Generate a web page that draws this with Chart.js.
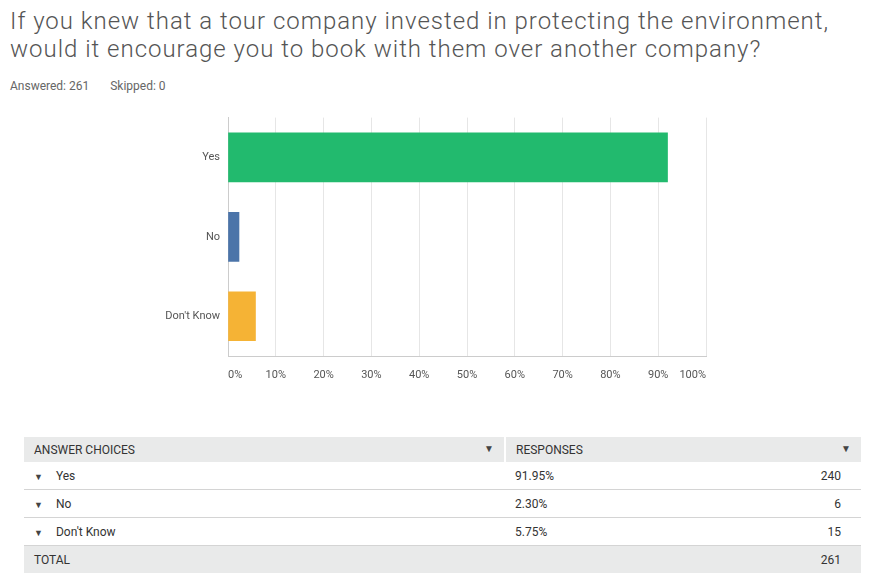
<!DOCTYPE html>
<html>
<head>
<meta charset="utf-8">
<script src="https://cdn.jsdelivr.net/npm/chart.js@4/dist/chart.umd.min.js"></script>
<style>
  body { margin: 0; background: #fff; font-family: Roboto, sans-serif; color: #333; }
  .page { position: relative; width: 875px; height: 587px; overflow: hidden; }
  h1 { position: absolute; left: 10px; top: 7px; margin: 0; font-weight: 300; font-size: 24px; line-height: 28px; color: #555; letter-spacing: 0.98px; }
  .meta { position: absolute; left: 10px; top: 79px; font-size: 12px; color: #666; }
  .meta span { margin-right: 18px; }
  .chart-box { position: absolute; left: 0; top: 103px; width: 875px; height: 292px; }
  table { position: absolute; left: 24px; top: 437px; width: 837px; border-collapse: collapse; font-size: 12px; color: #333; }
  td { height: 27px; padding: 0 10px; border-bottom: 1px solid #d4d4d4; }
  tr.head td, tr.total td { background: #e9eaea; border-bottom: none; }
  tr.head td { height: 25px; }
  tr.total td { height: 27px; border-top: 1px solid #d4d4d4; }
  .caret { font-size: 9px; color: #444; margin-right: 13px; }
  .col1 { width: 460px; }
  tr.head .col1 { border-right: 2px solid #fff; }
  .hc { float: right; font-size: 10px; color: #444; }
</style>
</head>
<body>
<div class="page">
  <h1>If you knew that a tour company invested in protecting the environment,<br>would it encourage you to book with them over another company?</h1>
  <div class="meta"><span>Answered: 261</span> <span>Skipped: 0</span></div>
  <div class="chart-box"><canvas id="chart"></canvas></div>
  <table id="tbl"></table>
</div>
<script>
const choices = ['Yes', 'No', "Don't Know"];
const percents = [91.95, 2.30, 5.75];
const counts = [240, 6, 15];
const total = 261;
const barColors = ['#22ba6e', '#4b74a9', '#f5b335'];
const xTicks = ['0%', '10%', '20%', '30%', '40%', '50%', '60%', '70%', '80%', '90%', '100%'];

// table below the chart
const tbl = document.getElementById('tbl');
let html = '<tr class="head"><td class="col1">ANSWER CHOICES<span class="hc">&#9660;</span></td><td>RESPONSES<span class="hc">&#9660;</span></td></tr>';
choices.forEach((c, i) => {
  html += '<tr><td class="col1"><span class="caret">&#9660;</span>' + c + '</td><td>' + percents[i].toFixed(2) + '%<span style="float:right;padding-right:10px">' + counts[i] + '</span></td></tr>';
});
html += '<tr class="total"><td class="col1">TOTAL</td><td><span style="float:right;padding-right:10px">' + total + '</span></td></tr>';
tbl.innerHTML = html;

const ctx = document.getElementById('chart').getContext('2d');
new Chart(ctx, {
  type: 'bar',
  data: {
    labels: choices,
    datasets: [{
      data: percents,
      backgroundColor: barColors,
      barThickness: 49,
    }],
  },
  options: {
    indexAxis: 'y',
    responsive: true,
    maintainAspectRatio: false,
    animation: false,
    layout: { padding: { top: 0, right: 169, left: 0, bottom: 0 } },
    plugins: { legend: { display: false }, tooltip: { enabled: false } },
    scales: {
      x: {
        min: 0,
        max: 100,
        afterFit: (s) => { s.height = 39; },
        grid: { color: '#e6e6e6', drawTicks: false },
        border: { color: '#cccccc' },
        ticks: {
          stepSize: 10,
          padding: 13,
          align: 'inner',
          color: '#555',
          font: { family: 'Roboto', size: 11 },
          callback: (v, i) => xTicks[i],
        },
      },
      y: {
        afterFit: (s) => { s.width = 228; },
        grid: { display: false, drawTicks: false },
        border: { color: '#cccccc' },
        ticks: { padding: 8, color: '#555', font: { family: 'Roboto', size: 11 } },
      },
    },
  },
});
</script>
</body>
</html>
